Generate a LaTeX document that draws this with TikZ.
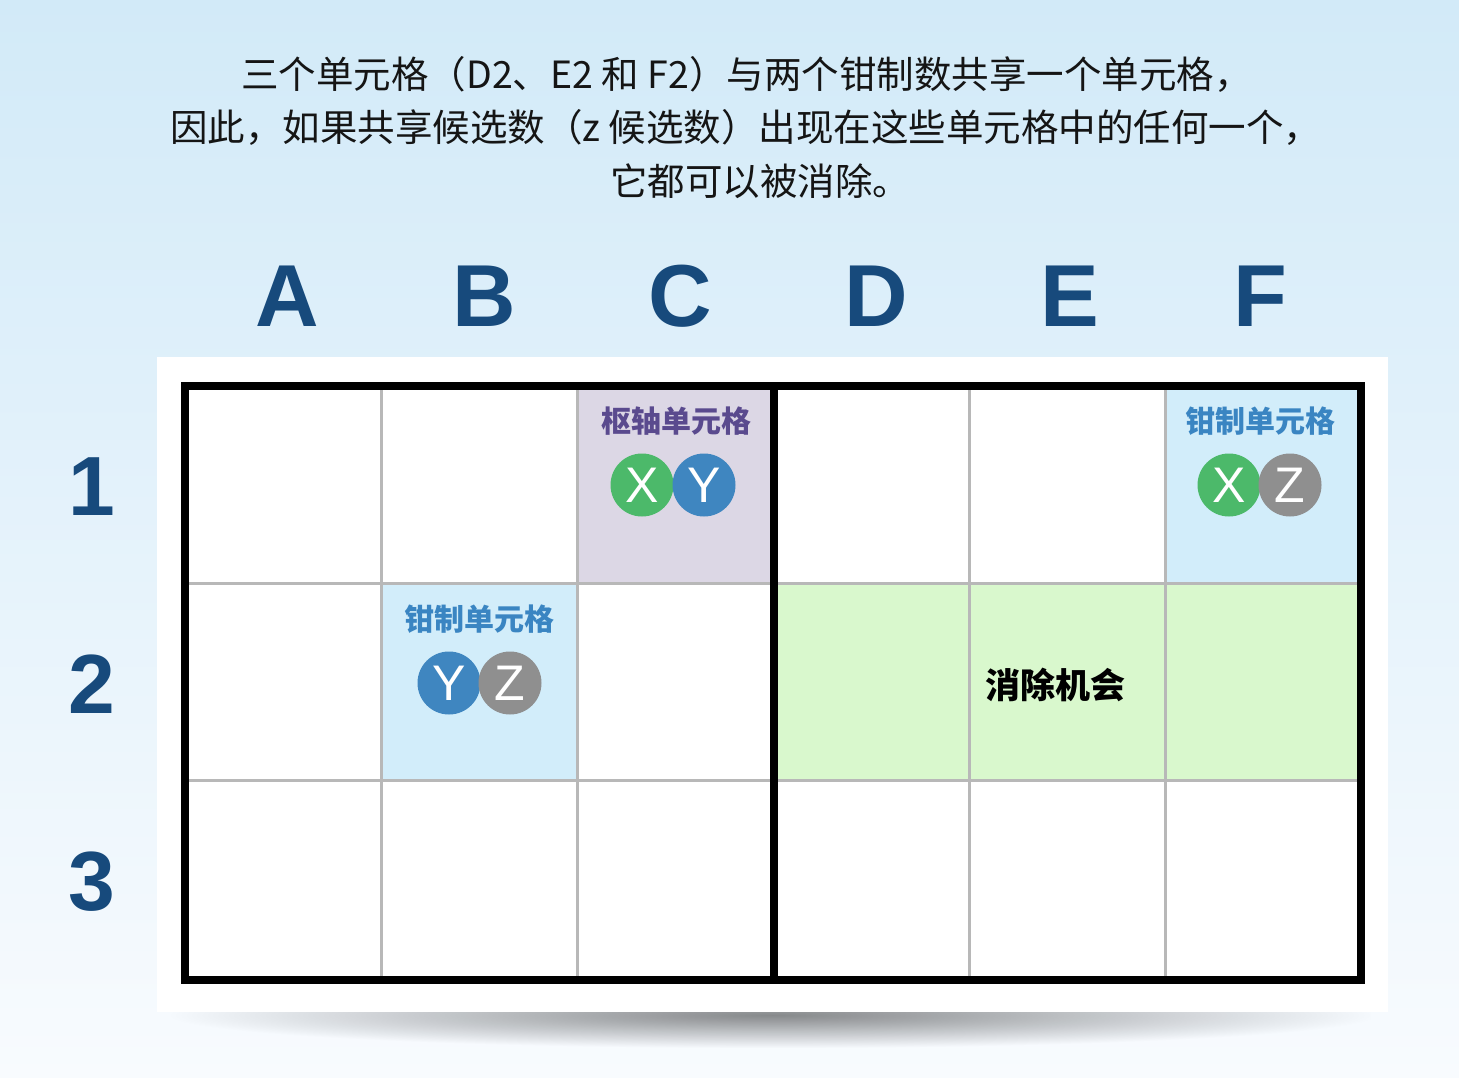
\documentclass[tikz,border=0pt]{standalone}
\usepackage{fontspec}
\setmainfont{Liberation Sans}
\newfontfamily\cjk{Noto Sans CJK SC}
\usetikzlibrary{fadings}
\definecolor{bgtop}{HTML}{D2EAF8}
\definecolor{bgbot}{HTML}{F8FBFE}
\definecolor{hdrblue}{HTML}{174A7C}
\definecolor{pivotfill}{HTML}{DCD7E5}
\definecolor{pincerfill}{HTML}{D2EDFA}
\definecolor{elimfill}{HTML}{D9F8CD}
\definecolor{gridgray}{HTML}{B8B8B8}
\definecolor{candgreen}{HTML}{4CB96A}
\definecolor{candblue}{HTML}{3F86C0}
\definecolor{candgray}{HTML}{8F8F8F}
\definecolor{pivottext}{HTML}{5A4A8E}
\definecolor{pincertext}{HTML}{3A85C2}
\definecolor{titletext}{HTML}{151515}
\tikzfading[name=shadowfade, inner color=transparent!55, outer color=transparent!100]
\tikzset{
  titleline/.style={font=\cjk\fontsize{37.5}{37.5}\selectfont, text=titletext, inner sep=0pt, anchor=west},
  hdr/.style={font=\fontsize{88}{88}\selectfont\bfseries, text=hdrblue, inner sep=0pt, anchor=base},
  rownum/.style={font=\fontsize{84}{84}\selectfont\bfseries, text=hdrblue, inner sep=0pt, anchor=base},
  celllabel/.style={font=\cjk\bfseries\fontsize{30}{30}\selectfont, inner sep=0pt},
  cand/.style={circle, minimum size=63pt, inner sep=0pt, text=white, font=\fontsize{50}{50}\selectfont},
  thingrid/.style={draw=gridgray, line width=3pt},
  frame/.style={draw=black, line width=8pt},
}
\begin{document}
\begin{tikzpicture}[x=1pt, y=-1pt]
\useasboundingbox (0,0) rectangle (1459,1078);
% background
\shade[top color=bgtop, bottom color=bgbot] (0,0) rectangle (1459,1078);
% panel shadow
\fill[black, path fading=shadowfade] (170,982) rectangle (1375,1048);
% white panel
\fill[white] (157,357) rectangle (1388,1012);
% title
\node[titleline] (t1) at (241,74) {三个单元格（D2、E2 和 F2）与两个钳制数共享一个单元格，};
\node[titleline] (t2) at (170,127) {因此，如果共享候选数（z 候选数）出现在这些单元格中的任何一个，};
\node[titleline] (t3) at (610,181) {它都可以被消除。};
% column headers
\node[hdr] (hA) at (287,326) {A};
\node[hdr] (hB) at (484,326) {B};
\node[hdr] (hC) at (680,326) {C};
\node[hdr] (hD) at (876,326) {D};
\node[hdr] (hE) at (1070,326) {E};
\node[hdr] (hF) at (1260,326) {F};
% row numbers
\node[rownum] (r1) at (92,515) {1};
\node[rownum] (r2) at (92,713) {2};
\node[rownum] (r3) at (92,910) {3};
% cell fills
\fill[pivotfill] (577,386) rectangle (773,583);
\fill[pincerfill] (1165,386) rectangle (1360,583);
\fill[pincerfill] (381,583) rectangle (577,780);
\fill[elimfill] (773,583) rectangle (1360,780);
% thin grid lines
\foreach \gx in {381,577,969,1165} \draw[thingrid] (\gx,386) -- (\gx,980);
\foreach \gy in {583,780} \draw[thingrid] (185,\gy) -- (1360,\gy);
% thick frame and box divider
\draw[frame] (185,386) rectangle (1360.5,980);
\draw[frame] (773.5,386) -- (773.5,980);
% cell labels
\node[celllabel, text=pivottext] (lC1) at (676,421) {枢轴单元格};
\node[celllabel, text=pincertext] (lF1) at (1260,421) {钳制单元格};
\node[celllabel, text=pincertext] (lB2) at (479,619) {钳制单元格};
\node[font=\cjk\bfseries\fontsize{35}{35}\selectfont, text=black, inner sep=0pt] (lE2) at (1055,685) {消除机会};
% candidates
\node[cand, fill=candgreen] (c1x) at (642,485) {X};
\node[cand, fill=candblue] (c1y) at (704,485) {Y};
\node[cand, fill=candgreen] (f1x) at (1229,485) {X};
\node[cand, fill=candgray] (f1z) at (1290,485) {Z};
\node[cand, fill=candblue] (b2y) at (449,683) {Y};
\node[cand, fill=candgray] (b2z) at (510,683) {Z};
\end{tikzpicture}
\end{document}
